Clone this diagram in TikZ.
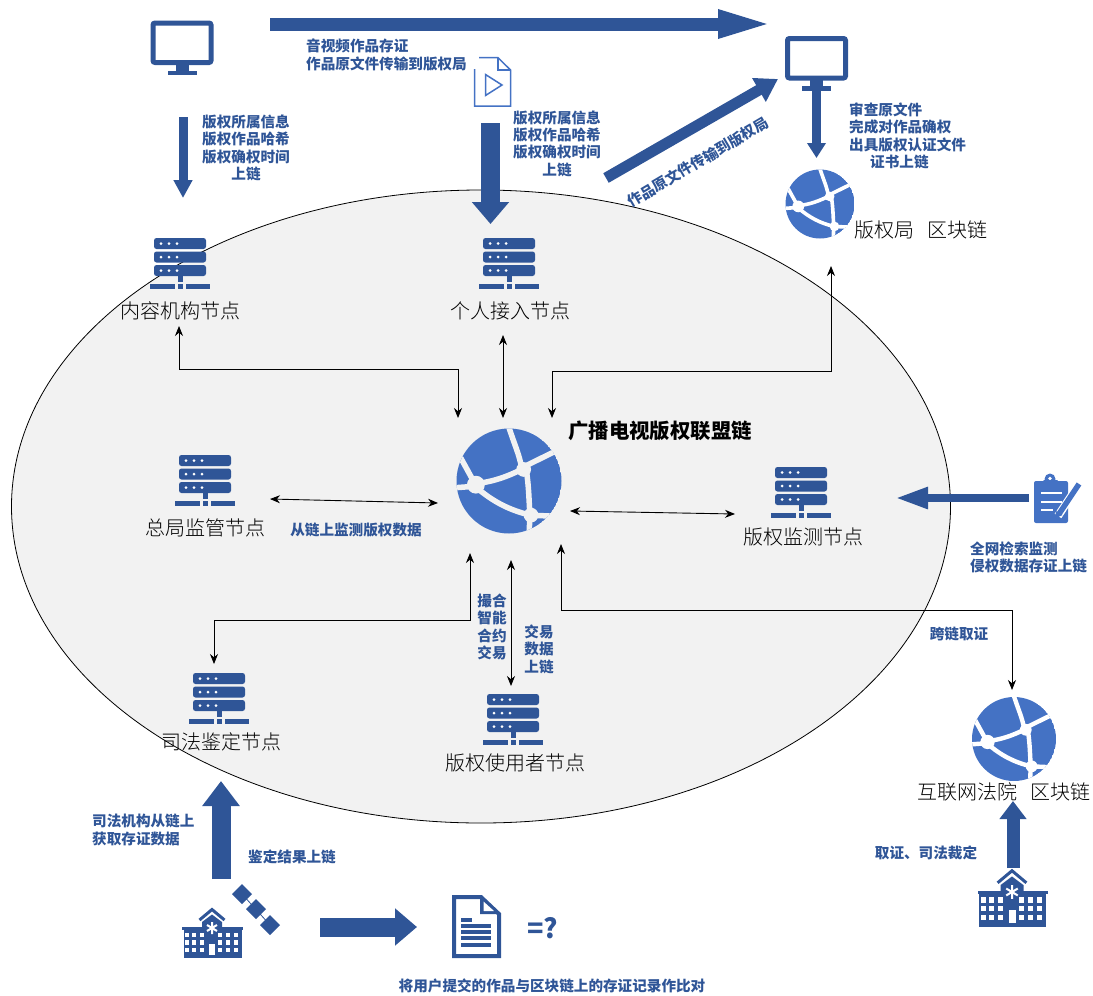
\documentclass[tikz,border=0pt]{standalone}
\usepackage{fontspec}
\setmainfont{Noto Sans CJK SC}
\newfontfamily\lightzh{Noto Sans CJK SC Light}
\usetikzlibrary{arrows.meta,shapes.geometric}
\definecolor{navy}{HTML}{2F5597}
\definecolor{globeblue}{HTML}{4472C4}
\definecolor{plane}{HTML}{F2F2F2}
\newcommand\drawglobe[3]{%
  \begin{scope}[shift={(#1)},scale=#2]
    \clip (0,0) circle (1);
    \fill[globeblue] (0,0) circle (1);
    \pgfmathsetmacro\glw{0.105*#2}
    \draw[#3,line width=\glw pt]
      (-0.01,-1.05) .. controls (0.1,-0.7) and (0.2,-0.5) .. (0.24,-0.25)
      (0.24,-0.25) -- (0.95,-0.6)
      (-0.65,0.05) .. controls (-0.3,0.02) and (0,-0.1) .. (0.24,-0.22)
      (-0.65,0.05) -- (-0.98,-0.55)
      (-0.65,0.1) -- (-1.05,0.13)
      (-0.65,0.1) .. controls (-0.3,0.4) and (0,0.55) .. (0.4,0.65)
      (0.33,-0.2) .. controls (0.38,0.1) and (0.38,0.4) .. (0.4,0.65)
      (0.4,0.65) -- (0.38,1.05)
      (0.4,0.65) -- (1.05,0.68);
    \fill[#3] (-0.63,0.07) circle (0.17) (0.28,-0.22) circle (0.14) (0.42,0.65) circle (0.14);
  \end{scope}}
\tikzset{
  x=1pt,y=-1pt,
  thin link/.style={draw=black,line width=0.9pt,{Stealth[length=10pt,width=8pt]}-{Stealth[length=10pt,width=8pt]}},
  node label/.style={inner sep=0,font=\fontsize{20}{24}\lightzh,text=black},
  note/.style={inner sep=0,font=\fontsize{14.6}{17.4}\selectfont\bfseries,text=navy,align=center},
  noteleft/.style={note,align=left,anchor=west},
  block/.style n args={3}{draw=navy,line width=#1,-{Triangle[length=#3,width=#2]}},
  server/.pic={
    \fill[navy,rounded corners=2.5pt] (-26,0) rectangle (26,11);
    \fill[navy,rounded corners=2.5pt] (-26,13.5) rectangle (26,24.5);
    \fill[navy,rounded corners=2.5pt] (-26,27) rectangle (26,38);
    \foreach \r in {5.5,19,32.5}\foreach \d in {-19,-11,-3}
      \fill[white] (\d,\r) circle (1.5);
    \fill[navy] (-2.5,38) rectangle (2.5,44);
    \fill[navy] (-30,46) rectangle (-5.5,51);
    \fill[navy] (-2.5,46) rectangle (2.5,51);
    \fill[navy] (5.5,46) rectangle (30,51);
  },
  monitor/.pic={
    \draw[navy,line width=5pt,rounded corners=2pt] (-29,2.5) rectangle (29,42);
    \fill[navy] (-6.5,44) rectangle (6.5,50);
    \fill[navy] (-14.5,50) rectangle (14.5,54.5);
  },
  hospital/.pic={
    \fill[navy] (-28.5,21) rectangle (29.5,50);
    \fill[navy] (-30,19) rectangle (31,22);
    \fill[navy] (-10,21) -- (-10,14) -- (0,6.5) -- (10,14) -- (10,21) -- cycle;
    \draw[navy,line width=3pt] (-12.5,12) -- (0,1.5) -- (12.5,12);
    \draw[white,line width=2pt] (0,14) -- (0,26) (-5,17) -- (5,23) (-5,23) -- (5,17);
    \foreach \c in {-25,-18,-10,8,16,24}\foreach \r in {27,34.5,42}
      \fill[white] (\c-2.3,\r-2.3) rectangle (\c+2.3,\r+2.3);
    \fill[white] (-3,36) rectangle (3.4,47);
  },
}
\begin{document}
\begin{tikzpicture}
\useasboundingbox (0,0) rectangle (1093,996);

% --- anchor points
\coordinate (hub) at (509,481);
\coordinate (gcopy) at (820,204);
\coordinate (gcourt) at (1014,739);

% --- consortium chain boundary
\node[draw=black,line width=0.8pt,fill=plane,ellipse,inner sep=0,minimum width=939pt,minimum height=633pt] (plane) at (481,506.5) {};

% --- icons
\pic at (180,238) {server};
\pic at (509,238) {server};
\pic at (205,455) {server};
\pic at (801,467) {server};
\pic at (219,673) {server};
\pic at (513,694) {server};
\pic at (182,20.5) {monitor};
\pic at (816.5,36) {monitor};
\pic at (212,908) {hospital};
\pic[scale=1.15] at (1012,869) {hospital};
\drawglobe{hub}{52.5}{plane}
\drawglobe{gcopy}{34.5}{white}
\drawglobe{gcourt}{42}{white}

% video file
\draw[globeblue,line width=1.5pt] (479,57.7) -- (498,57.7) -- (510.5,70) -- (510.5,106) -- (474.7,106) -- (474.7,69);
\draw[globeblue,line width=1.5pt] (498,57.7) -- (498,70) -- (510.5,70);
\draw[globeblue,line width=1.5pt] (485.5,74.5) -- (502,85) -- (485.5,95.5) -- cycle;

% document
\draw[navy,line width=4pt] (454,897) -- (481,897) -- (499,914) -- (499,956) -- (454,956) -- cycle;
\fill[navy] (480,895) -- (480,914) -- (499,914) -- cycle;
\fill[white] (483.5,901.5) -- (483.5,911) -- (494,911) -- cycle;
\fill[navy] (461,918) rectangle (472,922);
\foreach \r in {924,930,936,943}
  \fill[navy] (461,\r) rectangle (491,\r+4);

% satellite chain
\draw[navy,line width=0.8pt] (242,894) -- (270,925);
\foreach \p in {(242,894),(256,909),(270,925)}
  \fill[navy] \p +(-10,0) -- +(0,-10) -- +(10,0) -- +(0,10) -- cycle;

% clipboard
\fill[globeblue,rounded corners=2pt] (1034,481) rectangle (1068,523);
\fill[globeblue] (1050,479) circle (5.5);
\fill[white] (1050,478.5) circle (1.8);
\fill[globeblue,rounded corners=1pt] (1043,480) rectangle (1058,487);
\draw[white,line width=2.4pt] (1041,493) -- (1062,493) (1041,502) -- (1062,502) (1041,510) -- (1053,510);
\draw[white,line width=8pt] (1079,484) -- (1058,516);
\draw[globeblue,line width=5.5pt] (1079,484) -- (1059,514);
\fill[globeblue] (1054,519) -- (1056.5,511) -- (1062.5,515) -- cycle;

% --- block arrows
\coordinate (a1) at (270,24);   \coordinate (a1e) at (775,24);
\coordinate (a2) at (183,117);  \coordinate (a2e) at (183,198);
\coordinate (a3) at (490.5,123);\coordinate (a3e) at (490.5,224);
\coordinate (a4) at (606,178);  \coordinate (a4e) at (778,79);
\coordinate (a5) at (816.5,88); \coordinate (a5e) at (816.5,158);
\coordinate (a6) at (1029,498); \coordinate (a6e) at (895,498);
\coordinate (a7) at (221,879);  \coordinate (a7e) at (221,781);
\coordinate (a8) at (320,927);  \coordinate (a8e) at (417,927);
\coordinate (a9) at (1013,868); \coordinate (a9e) at (1013,801);
\draw[block={13pt}{25pt}{57pt}] (a1) -- (a1e);
\draw[block={9pt}{18pt}{18pt}] (a2) -- (a2e);
\draw[block={19pt}{36pt}{22pt}] (a3) -- (a3e);
\draw[block={11pt}{26pt}{22pt}] (a4) -- (a4e);
\draw[block={9pt}{18pt}{15pt}] (a5) -- (a5e);
\draw[block={8pt}{20pt}{33pt}] (a6) -- (a6e);
\draw[block={19pt}{36pt}{25pt}] (a7) -- (a7e);
\draw[block={19pt}{36pt}{22pt}] (a8) -- (a8e);
\draw[block={13pt}{26pt}{18pt}] (a9) -- (a9e);

% --- node labels
\node[node label] (n1) at (180.5,311) {内容机构节点};
\node[node label] (n2) at (510.5,311) {个人接入节点};
\node[node label] (n3) at (205.5,528) {总局监管节点};
\node[node label] (n4) at (803,537) {版权监测节点};
\node[node label] (n5) at (221,742) {司法鉴定节点};
\node[node label] (n6) at (515,763) {版权使用者节点};
\node[node label,anchor=west] (n7) at (854,230) {版权局\hspace*{13pt}区块链};
\node[node label] (n8) at (1004,792) {互联网法院\hspace*{13pt}区块链};
\node[inner sep=0,anchor=west,font=\fontsize{20.4}{24}\selectfont\bfseries] (title) at (568,431) {广播电视版权联盟链};

% --- thin connectors
\coordinate (c1a) at (179,326); \coordinate (c1b) at (458,418);
\coordinate (c2a) at (503,335); \coordinate (c2b) at (503,418);
\coordinate (c3a) at (552,418); \coordinate (c3b) at (831,266);
\coordinate (c4a) at (270,499); \coordinate (c4b) at (438,503);
\coordinate (c5a) at (570,511); \coordinate (c5b) at (735,514);
\coordinate (c6a) at (470,553); \coordinate (c6b) at (214,664);
\coordinate (c7a) at (511,560); \coordinate (c7b) at (511,686);
\coordinate (c8a) at (561,544); \coordinate (c8b) at (1012,690);
\draw[thin link] (c1a) -- (179,369) -- (458,369) -- (c1b);
\draw[thin link] (c2a) -- (c2b);
\draw[thin link] (c3a) -- (552,371) -- (831,371) -- (c3b);
\draw[thin link] (c4a) -- (c4b);
\draw[thin link] (c5a) -- (c5b);
\draw[thin link] (c6a) -- (470,620) -- (214,620) -- (c6b);
\draw[thin link] (c7a) -- (c7b);
\draw[thin link] (c8a) -- (561,610) -- (1012,610) -- (c8b);

% --- notes
\node[noteleft] (t1) at (306,55) {音视频作品存证\\作品原文件传输到版权局};
\node[note] (t2) at (246,148) {版权所属信息\\版权作品哈希\\版权确权时间\\上链};
\node[note] (t3) at (557,143.5) {版权所属信息\\版权作品哈希\\版权确权时间\\上链};
\node[note,rotate=30.5] (t4) at (698,162) {作品原文件传输到版权局};
\node[noteleft] (t5) at (849,136) {审查原文件\\完成对作品确权\\出具版权认证文件\\\hspace*{21pt}证书上链};
\node[note] (t6) at (356,530) {从链上监测版权数据};
\node[note] (t7) at (492,627) {撮合\\智能\\合约\\交易};
\node[note] (t8) at (539,649) {交易\\数据\\上链};
\node[note] (t9) at (959,634) {跨链取证};
\node[noteleft] (t10) at (970,557.5) {全网检索监测\\侵权数据存证上链};
\node[noteleft] (t11) at (92,830) {司法机构从链上\\获取存证数据};
\node[note] (t12) at (292,857) {鉴定结果上链};
\node[note] (t13) at (926,853) {取证、司法裁定};
\node[note,font=\fontsize{27}{30}\selectfont\bfseries] (t14) at (542.5,928) {=?};
\node[note] (t15) at (552,986) {将用户提交的作品与区块链上的存证记录作比对};
\end{tikzpicture}
\end{document}
